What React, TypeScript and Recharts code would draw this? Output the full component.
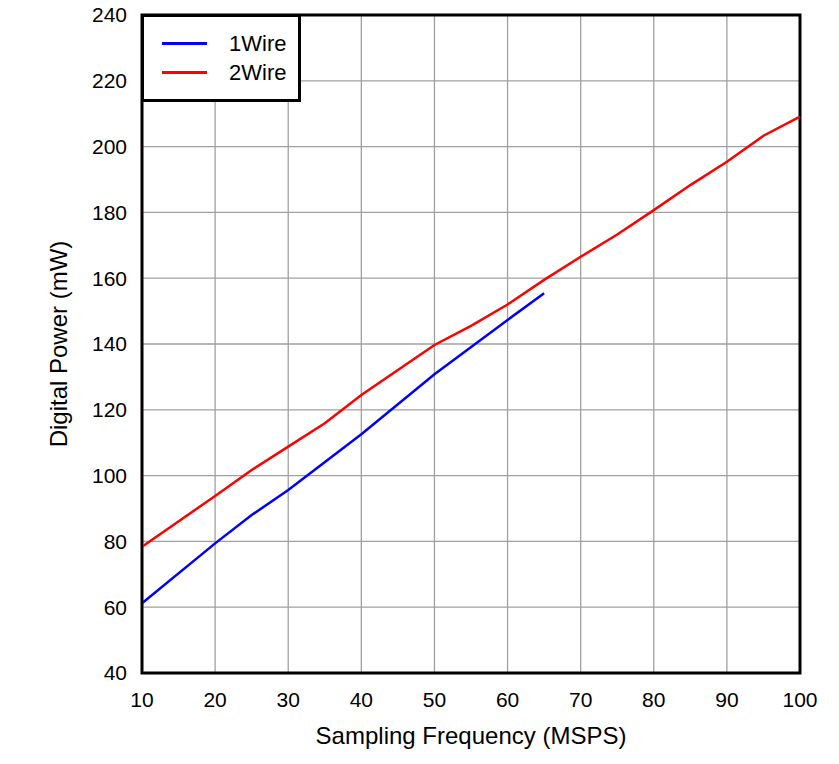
import React from "react";
import { LineChart, Line, XAxis, YAxis, CartesianGrid, Legend, ReferenceArea } from "recharts";

const xTicks = [10, 20, 30, 40, 50, 60, 70, 80, 90, 100];
const yTicks = [40, 60, 80, 100, 120, 140, 160, 180, 200, 220, 240];

const wire1X = [10, 20, 25, 30, 40, 50, 60, 65];
const wire1Y = [61.2, 79.4, 88, 95.6, 112.6, 130.8, 147.3, 155.4];

const wire2X = [10, 20, 25, 30, 35, 40, 45, 50, 55, 60, 65, 70, 75, 80, 85, 90, 95, 100];
const wire2Y = [78.4, 93.8, 101.7, 108.8, 115.9, 124.5, 132.1, 139.7, 145.5, 152, 159.5, 166.5, 173.3, 180.7, 188.3, 195.4, 203.3, 209.1];

const series = [
  { name: "1Wire", color: "#0000ff", data: wire1X.map((x, i) => ({ x, y: wire1Y[i] })) },
  { name: "2Wire", color: "#ff0000", data: wire2X.map((x, i) => ({ x, y: wire2Y[i] })) },
];

const font = "'Liberation Sans', Arial, sans-serif";

const LegendBox = () => (
  <div
    style={{
      boxSizing: "border-box",
      width: 160,
      height: 88,
      border: "3px solid #000",
      background: "#fff",
      fontFamily: font,
      fontSize: 22,
      paddingTop: 12,
    }}
  >
    {series.map((s) => (
      <div key={s.name} style={{ display: "flex", alignItems: "center", height: 29 }}>
        <div style={{ width: 45, height: 3, background: s.color, marginLeft: 18 }} />
        <span style={{ marginLeft: 22, color: "#000", lineHeight: "29px" }}>{s.name}</span>
      </div>
    ))}
  </div>
);

export default function App() {
  return (
    <div style={{ position: "absolute", left: 0, top: 0, background: "#fff" }}>
      <LineChart width={839} height={764} margin={{ top: 15, right: 39, bottom: 0, left: 82 }}>
        <CartesianGrid stroke="#a0a0a0" strokeWidth={1.3} />
        <XAxis
          type="number"
          dataKey="x"
          domain={[10, 100]}
          ticks={xTicks}
          allowDuplicatedCategory={false}
          tickLine={false}
          tickSize={0}
          tickMargin={19}
          axisLine={{ stroke: "#000", strokeWidth: 2 }}
          tick={{ fill: "#000", fontSize: 21, fontFamily: font }}
          label={{ value: "Sampling Frequency (MSPS)", position: "insideBottom", offset: 20, fill: "#000", fontSize: 24, fontFamily: font }}
          height={91}
        />
        <YAxis
          type="number"
          domain={[40, 240]}
          ticks={yTicks}
          width={60}
          tickLine={false}
          tickSize={0}
          tickMargin={15}
          axisLine={{ stroke: "#000", strokeWidth: 2 }}
          tick={{ fill: "#000", fontSize: 21, fontFamily: font }}
          label={{ value: "Digital Power (mW)", angle: -90, position: "insideLeft", offset: -24, fill: "#000", fontSize: 24, fontFamily: font, style: { textAnchor: "middle" } }}
        />
        <ReferenceArea x1={10} x2={100} y1={40} y2={240} fill="none" stroke="#000" strokeWidth={3} />
        {series.map((s) => (
          <Line
            key={s.name}
            data={s.data}
            dataKey="y"
            name={s.name}
            type="linear"
            stroke={s.color}
            strokeWidth={2.5}
            dot={false}
            activeDot={false}
            isAnimationActive={false}
          />
        ))}
        <Legend
          layout="vertical"
          verticalAlign="middle"
          align="center"
          content={<LegendBox />}
          wrapperStyle={{ left: 141, top: 14, width: 160, height: 88 }}
        />
      </LineChart>
    </div>
  );
}
